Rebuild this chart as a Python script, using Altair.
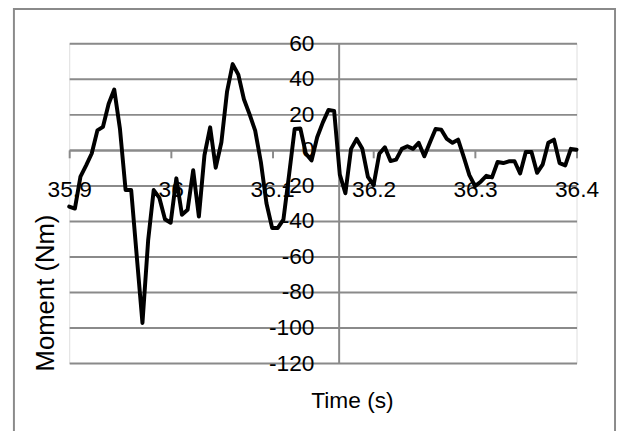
import altair as alt
import pandas as pd

time_s = [35.9000, 35.9056, 35.9111, 35.9167, 35.9222, 35.9278, 35.9333, 35.9389, 35.9444, 35.9500,
          35.9556, 35.9611, 35.9667, 35.9722, 35.9778, 35.9833, 35.9889, 35.9944, 36.0000, 36.0056,
          36.0111, 36.0167, 36.0222, 36.0278, 36.0333, 36.0389, 36.0444, 36.0500, 36.0556, 36.0611,
          36.0667, 36.0722, 36.0778, 36.0833, 36.0889, 36.0944, 36.1000, 36.1056, 36.1111, 36.1167,
          36.1222, 36.1278, 36.1333, 36.1389, 36.1444, 36.1500, 36.1556, 36.1611, 36.1667, 36.1722,
          36.1778, 36.1833, 36.1889, 36.1944, 36.2000, 36.2056, 36.2111, 36.2167, 36.2222, 36.2278,
          36.2333, 36.2389, 36.2444, 36.2500, 36.2556, 36.2611, 36.2667, 36.2722, 36.2778, 36.2833,
          36.2889, 36.2944, 36.3000, 36.3056, 36.3111, 36.3167, 36.3222, 36.3278, 36.3333, 36.3389,
          36.3444, 36.3500, 36.3556, 36.3611, 36.3667, 36.3722, 36.3778, 36.3833, 36.3889, 36.3944,
          36.4000]

moment_nm = [-31.9, -33, -15, -8.7, -2, 11, 13, 26, 34, 12,
             -22.6, -22.6, -60.6, -97.4, -51, -22.6, -27, -39, -41, -16,
             -36.5, -33.7, -11.4, -37.5, -3, 12.7, -10, 4.3, 33, 48.3,
             42.4, 28.5, 20, 10.8, -6.8, -30, -43.9, -43.9, -39.3, -14,
             11.8, 12.1, -2.2, -5.9, 7.1, 15.5, 22.5, 22, -13.9, -24.4,
             0.6, 6.2, 0.6, -15.2, -19.8, -2.2, 1.5, -6.3, -5.5, 0.6,
             2.1, 0.6, 4, -3.6, 4.3, 11.8, 11.4, 6.2, 4, 5.8,
             -4, -14.2, -20.4, -17.9, -14.6, -15.5, -6.8, -7.4, -6.4, -6.4,
             -13.3, -1.2, -1.2, -12.9, -8.1, 4, 5.8, -7.4, -8.7, 0.6, 0.1]

x_ticks = [35.9, 36.0, 36.1, 36.2, 36.3, 36.4]
y_ticks = [60, 40, 20, 0, -20, -40, -60, -80, -100, -120]
x_title = "Time (s)"
y_title = "Moment (Nm)"

FONT = "Liberation Sans"
GRAY = "#8a8a8a"
W, H = 514, 324

df = pd.DataFrame({"t": time_s, "m": moment_nm})
one = pd.DataFrame({"a": [0]})

line = alt.Chart(df).mark_line(
    color="black", strokeWidth=4, strokeJoin="round", strokeCap="round"
).encode(
    x=alt.X("t:Q",
            scale=alt.Scale(domain=[35.9, 36.4], nice=False, zero=False),
            axis=alt.Axis(values=x_ticks, labelExpr="format(datum.value, '.1~f')",
                          offset=-216, grid=False, tickSize=8, tickColor=GRAY, tickWidth=2,
                          domainColor=GRAY, domainWidth=2, labelPadding=21,
                          labelFlush=False, labelOverlap=False,
                          labelFont=FONT, labelFontSize=23, labelColor="black",
                          title=None)),
    y=alt.Y("m:Q",
            scale=alt.Scale(domain=[-120, 60], nice=False, zero=False),
            axis=alt.Axis(values=y_ticks, labelExpr="toString(datum.value)",
                          offset=-273, grid=True, gridColor=GRAY, gridWidth=2,
                          ticks=False, domainColor=GRAY, domainWidth=2, labelPadding=25,
                          labelFlush=False, labelOverlap=False,
                          labelFont=FONT, labelFontSize=23, labelColor="black",
                          title=None)),
)

border = alt.Chart(one).mark_rect(
    fill=None, stroke=GRAY, strokeWidth=2
).encode(
    x=alt.value(-56), x2=alt.value(553), y=alt.value(-34.7), y2=alt.value(420)
)

xt = alt.Chart(one).mark_text(
    text=x_title, font=FONT, fontSize=23, color="black", align="center", baseline="middle"
).encode(x=alt.value(287), y=alt.value(362))

yt = alt.Chart(one).mark_text(
    text=y_title, font=FONT, fontSize=26, color="black", align="center", baseline="middle", angle=270
).encode(x=alt.value(-23), y=alt.value(253))

chart = alt.layer(border, line, xt, yt).properties(
    width=W, height=H,
    autosize=alt.AutoSizeParams(type="none"),
    padding={"left": 62, "top": 33, "right": 41, "bottom": 66},
).configure_view(stroke=None).configure(background="white")

chart.save("out.html", embed_options={"renderer": "svg", "actions": False})
